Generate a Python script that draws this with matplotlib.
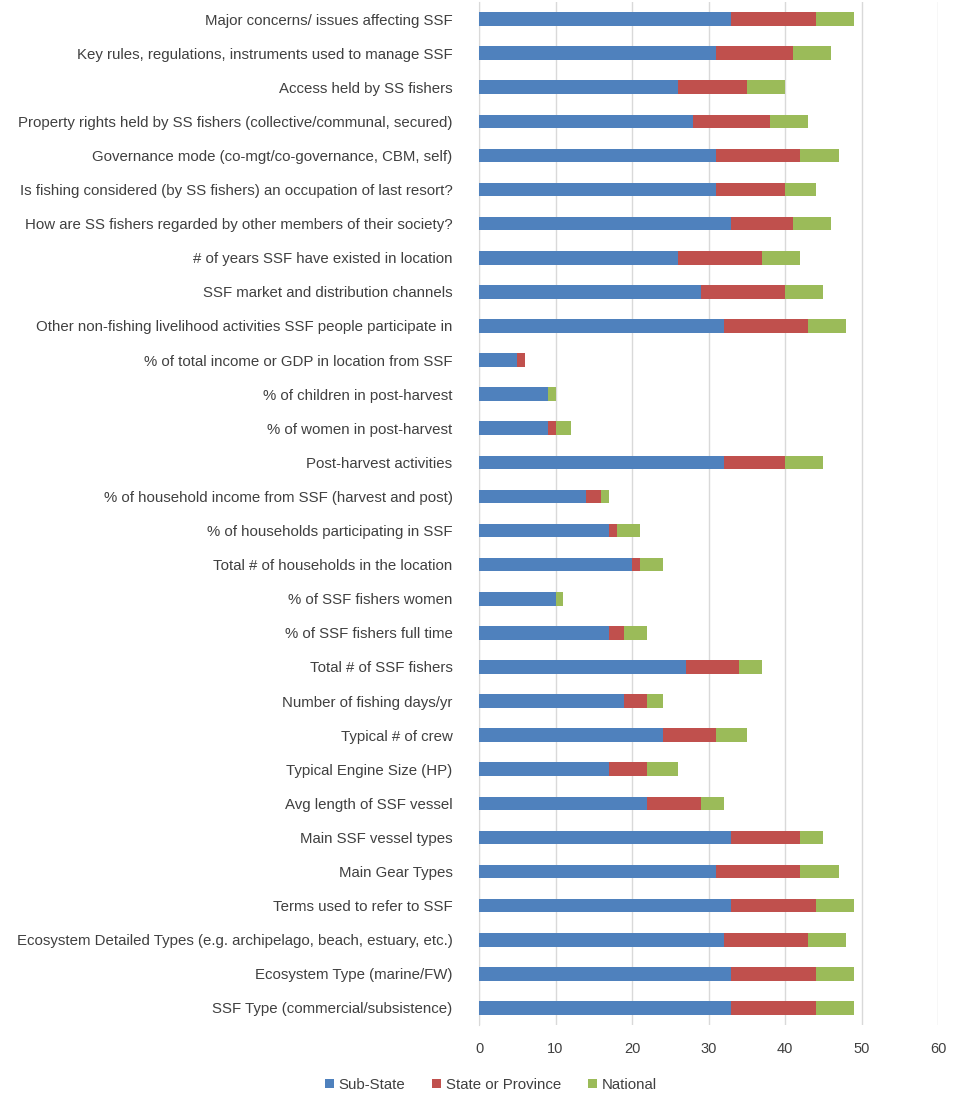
import matplotlib
matplotlib.use("Agg")
import matplotlib.pyplot as plt
import numpy as np

categories = [
    "Major concerns/ issues affecting SSF",
    "Key rules, regulations, instruments used to manage SSF",
    "Access held by SS fishers",
    "Property rights held by SS fishers (collective/communal, secured)",
    "Governance mode (co-mgt/co-governance, CBM, self)",
    "Is fishing considered (by SS fishers) an occupation of last resort?",
    "How are SS fishers regarded by other members of their society?",
    "# of years SSF have existed in location",
    "SSF market and distribution channels",
    "Other non-fishing livelihood activities SSF people participate in",
    "% of total income or GDP in location from SSF",
    "% of children in post-harvest",
    "% of women in post-harvest",
    "Post-harvest activities",
    "% of household income from SSF (harvest and post)",
    "% of households participating in SSF",
    "Total # of households in the location",
    "% of SSF fishers women",
    "% of SSF fishers full time",
    "Total # of SSF fishers",
    "Number of fishing days/yr",
    "Typical # of crew",
    "Typical Engine Size (HP)",
    "Avg length of SSF vessel",
    "Main SSF vessel types",
    "Main Gear Types",
    "Terms used to refer to SSF",
    "Ecosystem Detailed Types (e.g. archipelago, beach, estuary, etc.)",
    "Ecosystem Type (marine/FW)",
    "SSF Type (commercial/subsistence)",
]

sub_state = [33, 31, 26, 28, 31, 31, 33, 26, 29, 32, 5, 9, 9, 32, 14, 17, 20, 10, 17, 27,
             19, 24, 17, 22, 33, 31, 33, 32, 33, 33]
state_prov = [11, 10, 9, 10, 11, 9, 8, 11, 11, 11, 1, 0, 1, 8, 2, 1, 1, 0, 2, 7,
              3, 7, 5, 7, 9, 11, 11, 11, 11, 11]
national = [5, 5, 5, 5, 5, 4, 5, 5, 5, 5, 0, 1, 2, 5, 1, 3, 3, 1, 3, 3,
            2, 4, 4, 3, 3, 5, 5, 5, 5, 5]

series_names = ["Sub-State", "State or Province", "National"]
colors = ["#4F81BD", "#C0504D", "#9BBB59"]

plt.rcParams['font.family'] = ['Liberation Sans', 'DejaVu Sans']

fig = plt.figure(figsize=(9.56, 10.99), dpi=100)
ax = fig.add_axes([479/956, 1 - 1025/1099, (938-479)/956, (1025-2)/1099])

n = len(categories)
y = np.arange(n)[::-1]
sub = np.array(sub_state)
st = np.array(state_prov)
nat = np.array(national)

h = 0.4
ax.barh(y, sub, height=h, color=colors[0], label=series_names[0], zorder=3)
ax.barh(y, st, left=sub, height=h, color=colors[1], label=series_names[1], zorder=3)
ax.barh(y, nat, left=sub + st, height=h, color=colors[2], label=series_names[2], zorder=3)

ax.set_xlim(0, 60)
ax.set_ylim(-0.5, n - 0.5)
ax.set_xticks(range(0, 61, 10))
ax.set_yticks(y)
ax.set_yticklabels(categories, fontsize=10.8, color="#404040")
ax.tick_params(axis='x', length=0, colors="#404040", labelsize=10.5, pad=12)
ax.tick_params(axis='y', length=0, colors="#404040", pad=19)
ax.xaxis.grid(True, color="#D9D9D9", linewidth=1, zorder=0)
ax.set_axisbelow(True)
for s in ["top", "right", "bottom"]:
    ax.spines[s].set_visible(False)
ax.spines["left"].set_color("#D9D9D9")

handles, labels = ax.get_legend_handles_labels()
fig.legend(handles, labels, loc='center', bbox_to_anchor=(491/956, 1 - 1085/1099),
           ncol=3, frameon=False, fontsize=10.8, handlelength=0.6, handleheight=0.6,
           handletextpad=0.3, columnspacing=1.8, labelcolor="#404040")

fig.savefig("out.png", dpi=100)
